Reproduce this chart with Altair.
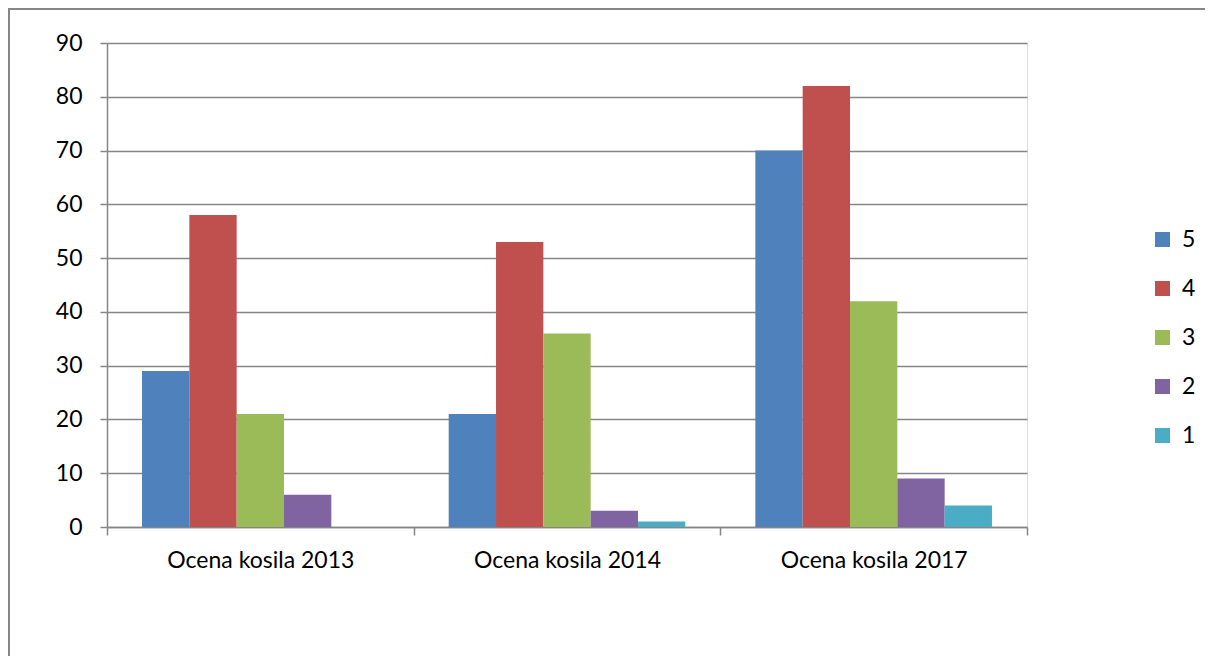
import altair as alt
import pandas as pd

categories = ["Ocena kosila 2013", "Ocena kosila 2014", "Ocena kosila 2017"]
grades = ["5", "4", "3", "2", "1"]
values = {
    "5": [29, 21, 70],
    "4": [58, 53, 82],
    "3": [21, 36, 42],
    "2": [6, 3, 9],
    "1": [0, 1, 4],
}
colors = ["#4F81BD", "#C0504D", "#9BBB59", "#8064A2", "#4BACC6"]

rows = []
for g in grades:
    for c, v in zip(categories, values[g]):
        rows.append({"kat": c, "ocena": g, "n": v})
df = pd.DataFrame(rows)

FONT = "Lato"
FS = 23
GRID = "#868686"

bars = alt.Chart(df).mark_bar(clip=False).encode(
    x=alt.X("kat:N", sort=categories, title=None,
            scale=alt.Scale(paddingInner=0, paddingOuter=0),
            axis=alt.Axis(labelAngle=0, labelFontSize=FS, labelFont=FONT, labelColor="#000000",
                          domainColor=GRID, tickColor=GRID, tickSize=8, tickBand="extent",
                          labelPadding=14, labelLimit=400, grid=False, domainWidth=1.5,
                          tickWidth=1.5)),
    xOffset=alt.XOffset("ocena:N", sort=grades,
                        scale=alt.Scale(paddingInner=0, paddingOuter=0.74)),
    y=alt.Y("n:Q", title=None,
            scale=alt.Scale(domain=[0, 90], nice=False),
            axis=alt.Axis(values=list(range(0, 91, 10)), labelFontSize=FS, labelFont=FONT,
                          labelColor="#000000", domainColor=GRID, tickColor=GRID, tickSize=7,
                          gridColor=GRID, gridWidth=1.5, domainWidth=1.5, tickWidth=1.5,
                          labelPadding=18)),
    color=alt.Color("ocena:N", sort=grades,
                    scale=alt.Scale(domain=grades, range=colors),
                    legend=alt.Legend(title=None, orient="none", legendX=1044, legendY=185,
                                      symbolType="square", symbolSize=225, symbolStrokeWidth=0,
                                      labelFontSize=FS, labelFont=FONT, labelColor="#000000",
                                      rowPadding=25, symbolOffset=0, labelOffset=8)),
)

frame = alt.Chart(df).mark_rect(fill=None, stroke=GRID, strokeWidth=1.5, clip=False).encode(
    x=alt.value(-98.5), x2=alt.value(1101), y=alt.value(-34.5), y2=alt.value(800)
)

chart = alt.layer(frame, bars).properties(
    width=920, height=484,
    autosize=alt.AutoSizeParams(type="none"),
    padding={"left": 99, "top": 35, "right": 178, "bottom": 129},
).configure_view(stroke=None).configure(background="white")

chart.save("out.html", embed_options={"renderer": "svg", "actions": False})
